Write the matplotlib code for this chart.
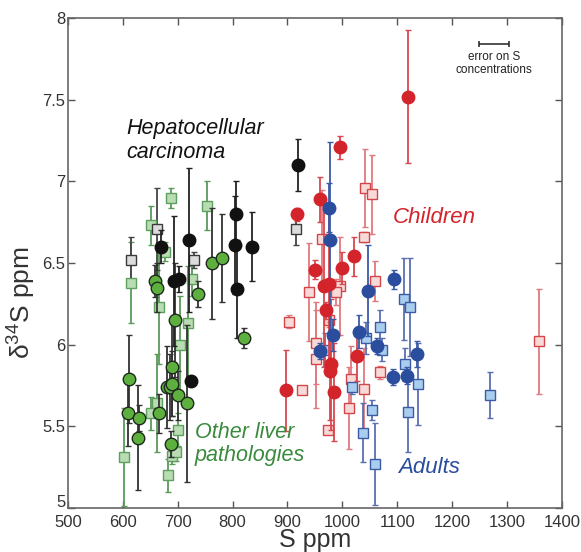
import matplotlib
matplotlib.use("Agg")
from matplotlib import pyplot as plt
from matplotlib.transforms import ScaledTranslation

plt.rcParams['font.family'] = ['Liberation Sans', 'DejaVu Sans']
plt.rcParams['mathtext.default'] = 'regular'

# Hepatocellular carcinoma - circles
hcc_x = [669, 721, 693, 703, 806, 804, 835, 808, 725, 919]
hcc_y = [6.60, 6.64, 6.39, 6.40, 6.80, 6.61, 6.60, 6.34, 5.78, 7.10]
hcc_e = [0.10, 0.44, 0.40, 0.08, 0.20, 0.30, 0.21, 0.30, 0.03, 0.16]
# Hepatocellular carcinoma - squares
hccs_x = [614, 662, 730, 915]
hccs_y = [6.52, 6.71, 6.52, 6.71]
hccs_e = [0.14, 0.25, 0.05, 0.10]

# Other liver pathologies - circles
olp_x = [612, 610, 630, 627, 665, 689, 680, 686, 689, 700, 716, 688,
         763, 781, 659, 662, 737, 695, 821]
olp_y = [5.79, 5.58, 5.55, 5.43, 5.58, 5.86, 5.74, 5.74, 5.76, 5.69, 5.64, 5.39,
         6.50, 6.53, 6.39, 6.35, 6.31, 6.15, 6.04]
olp_e = [0.27, 0.20, 0.08, 0.32, 0.12, 0.30, 0.25, 0.20, 0.20, 0.15, 0.48, 0.08,
         0.34, 0.27, 0.10, 0.15, 0.08, 0.35, 0.06]
# Other liver pathologies - squares
olps_x = [687, 753, 651, 677, 615, 666, 726, 719, 705, 663, 652, 603, 700, 689, 697, 683]
olps_y = [6.90, 6.85, 6.73, 6.57, 6.38, 6.23, 6.40, 6.13, 6.00, 5.64, 5.58, 5.31,
          5.48, 5.32, 5.34, 5.20]
olps_e = [0.06, 0.15, 0.12, 0.06, 0.25, 0.35, 0.10, 0.35, 0.30, 0.30, 0.10, 0.30,
          0.10, 0.05, 0.05, 0.10]

# Children - circles
ch_x = [1120, 995, 959, 917, 1021, 951, 1000, 967, 975, 971, 979, 977, 984, 1027, 897]
ch_y = [7.52, 7.21, 6.89, 6.80, 6.54, 6.46, 6.47, 6.36, 6.37, 6.21, 5.88, 5.84, 5.71, 5.93, 5.72]
ch_e = [0.41, 0.07, 0.14, 0.04, 0.12, 0.06, 0.10, 0.50, 0.50, 0.05, 0.40, 0.30, 0.30, 0.15, 0.25]
# Children - squares
chs_x = [1042, 1054, 1039, 963, 1059, 995, 989, 939, 903, 976, 952, 952, 1069, 1015,
         1039, 1012, 974, 926, 1358]
chs_y = [6.96, 6.92, 6.66, 6.65, 6.39, 6.36, 6.32, 6.32, 6.14, 6.15, 6.01, 5.91, 5.83,
         5.79, 5.73, 5.61, 5.48, 5.72, 6.02]
chs_e = [0.24, 0.24, 0.03, 0.30, 0.12, 0.30, 0.08, 0.30, 0.04, 0.04, 0.25, 0.30, 0.04,
         0.20, 0.25, 0.25, 0.02, 0.02, 0.32]

# Adults - circles
ad_x = [976, 978, 1095, 1047, 983, 1031, 1063, 959, 1092, 1117, 1136]
ad_y = [6.84, 6.64, 6.40, 6.33, 6.06, 6.08, 5.99, 5.96, 5.80, 5.81, 5.94]
ad_e = [0.15, 0.60, 0.06, 0.28, 0.10, 0.10, 0.05, 0.05, 0.05, 0.05, 0.08]
# Adults - squares
ads_x = [1113, 1123, 1068, 1043, 1073, 968, 1114, 1018, 1137, 1054, 1120, 1037, 1059, 1270]
ads_y = [6.28, 6.23, 6.11, 6.04, 5.97, 5.97, 5.88, 5.74, 5.76, 5.60, 5.59, 5.46, 5.27, 5.69]
ads_e = [0.25, 0.30, 0.10, 0.10, 0.07, 0.10, 0.10, 0.04, 0.25, 0.06, 0.25, 0.18, 0.25, 0.14]

# error on S concentrations
s_err_x, s_err_y, s_err = 1276, 7.84, 27

fig = plt.figure(figsize=(5.81, 5.52), dpi=100)
ax = fig.add_axes([0.117, 0.08, 0.85, 0.887])


def plot_set(x, y, e, marker, face, edge, ecol, ms, z):
    ax.errorbar(x, y, yerr=e, fmt=marker, ms=ms, mfc=face, mec=edge, mew=1.0,
                ecolor=ecol, elinewidth=1.3, capsize=2.5, capthick=1.3, zorder=z)


plot_set(olps_x, olps_y, olps_e, 's', '#b9ddb2', '#5e9e5e', '#5a9a5a', 7, 2)
plot_set(hccs_x, hccs_y, hccs_e, 's', '#dcdcdc', '#3a3a3a', '#444444', 7, 2)
plot_set(olp_x, olp_y, olp_e, 'o', '#5eb03e', '#1e2a1e', '#333333', 9, 3)
plot_set(hcc_x, hcc_y, hcc_e, 'o', '#111111', '#111111', '#222222', 9, 3)
plot_set(chs_x, chs_y, chs_e, 's', '#f7d9d7', '#d4454a', '#e07a7e', 7, 2)
plot_set(ads_x, ads_y, ads_e, 's', '#a9cdee', '#3d5ba4', '#5a6fb2', 7, 2)
plot_set(ch_x, ch_y, ch_e, 'o', '#d3242c', '#d3242c', '#d9484e', 9, 3)
plot_set(ad_x, ad_y, ad_e, 'o', '#2a4d9e', '#2a4d9e', '#3a5aa6', 9, 3)

ax.errorbar([s_err_x], [s_err_y], xerr=[s_err], fmt='none', ecolor='#222222',
            elinewidth=1.1, capsize=2.5, capthick=1.1)
ax.text(s_err_x, 7.725, "error on S\nconcentrations", fontsize=8.5, ha='center',
        va='center', color='#222222', linespacing=1.1)

ax.text(606, 7.25, "Hepatocellular\ncarcinoma", fontsize=15.5, style='italic',
        color='#111111', ha='left', va='center', linespacing=1.15)
ax.text(1092, 6.78, "Children", fontsize=16, style='italic', color='#d3242c',
        ha='left', va='center')
ax.text(731, 5.39, "Other liver\npathologies", fontsize=15.5, style='italic',
        color='#3a8a3e', ha='left', va='center', linespacing=1.15)
ax.text(1101, 5.25, "Adults", fontsize=16, style='italic', color='#2a4d9e',
        ha='left', va='center')

ax.set_xlim(500, 1400)
ax.set_ylim(5, 8)
ax.set_xticks(range(500, 1401, 100))
ax.set_yticks([5, 5.5, 6, 6.5, 7, 7.5, 8])
ax.set_yticklabels(["5", "5.5", "6", "6.5", "7", "7.5", "8"])
ax.tick_params(direction='in', top=True, right=True, labelsize=12, length=5,
               width=1.0, color='#555555', labelcolor='#333333')
ax.tick_params(axis='x', pad=5)
ax.tick_params(axis='y', pad=2)
for sp in ax.spines.values():
    sp.set_color('#666666')
    sp.set_linewidth(1.2)

# the lowest y label sits a little higher, as in the original
lab5 = ax.get_yticklabels()[0]
lab5.set_transform(lab5.get_transform() + ScaledTranslation(0, 5 / 72, fig.dpi_scale_trans))

ax.set_xlabel("S ppm", fontsize=18, color='#333333', labelpad=-1)
ax.set_ylabel("δ$^{34}$S ppm", fontsize=19, color='#333333')
ax.yaxis.set_label_coords(-0.06, 0.42)

fig.savefig("out.png", dpi=100)
